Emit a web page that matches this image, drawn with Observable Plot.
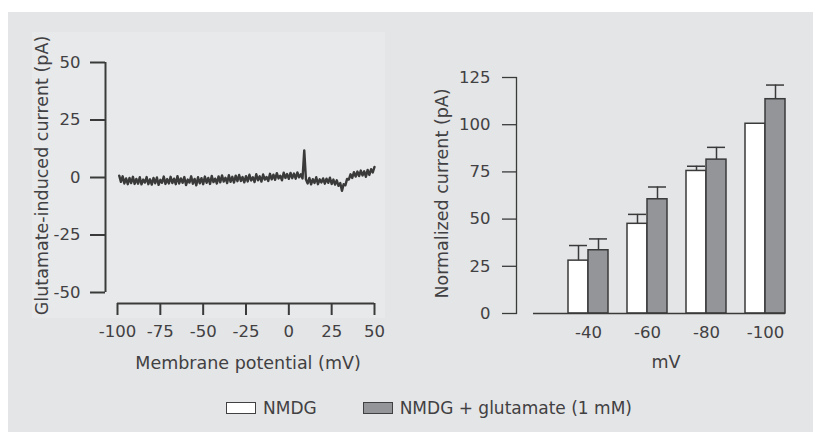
<!DOCTYPE html>
<html><head><meta charset="utf-8">
<script src="https://cdn.jsdelivr.net/npm/d3@7"></script>
<script src="https://cdn.jsdelivr.net/npm/@observablehq/plot@0.6"></script>
<style>
html,body{margin:0;padding:0;background:#fff;width:813px;height:432px;overflow:hidden;font-family:"DejaVu Sans",sans-serif;color:#414042;}
#bg{position:absolute;left:8px;top:12px;width:805px;height:420px;background:#e4e5e6;}
#panel{position:absolute;left:32px;top:32px;width:353px;height:286px;background:#e8e9ea;}
#left{position:absolute;left:0;top:0;}
#right{position:absolute;left:400px;top:0;}
#legend{position:absolute;left:226px;top:396px;height:24px;display:flex;align-items:center;font-size:17px;color:#414042;}
.item{display:flex;align-items:center;margin-right:46px;}
.sw{width:28px;height:10px;border:1.2px solid #414042;margin-right:7px;}
</style>
</head><body>
<div id="bg"></div><div id="panel"></div>
<div id="left"></div><div id="right"></div>
<div id="legend"></div>
<script>
// ---- Left panel: I–V trace (ramp from -99 to +50 mV, one sample per mV) ----
const traceStartMv = -99, traceEndMv = 50;
const traceCurrent = [
 0.8,-1.9,0.5,-2.6,-0.4,-2.9,-0.2,-2.4,0.3,-2.8,
 -0.6,-2.7,0.1,-3.0,-0.9,-2.2,0.2,-2.9,-0.8,-3.1,
 -0.2,-2.5,0.0,-3.2,-1.0,-2.3,0.4,-2.8,-0.7,-2.6,
 0.3,-2.4,-0.5,-2.9,0.6,-2.6,-0.4,-2.3,0.2,-3.3,
 -0.9,-2.2,0.5,-2.7,-0.6,-3.4,0.1,-2.5,-0.3,-2.9,
 0.4,-2.3,-0.2,-2.8,0.7,-2.0,-0.5,-2.6,0.5,-2.1,
 0.9,-1.8,-0.1,-2.4,1.0,-1.9,0.3,-2.2,0.8,-1.6,
 1.1,-1.5,0.2,-2.1,0.6,-1.7,1.2,-1.3,0.1,-2.0,
 1.4,-1.2,0.5,-1.8,1.3,-0.9,0.2,-1.5,1.6,-0.8,
 1.2,-1.0,1.9,-0.4,0.8,-1.2,2.1,-0.2,1.5,-0.6,
 2.0,-0.3,1.7,-0.5,2.2,0.1,1.4,-0.4,11.8,-0.9,
 -2.6,-0.2,-3.0,-0.7,-2.4,0.1,-2.9,-0.8,-2.2,-0.4,
 -2.7,-0.5,-2.3,-0.1,-2.8,-0.9,-3.1,-1.2,-3.6,-2.4,
 -5.8,-2.9,-3.4,-0.6,-0.9,1.4,-0.2,2.3,0.4,2.6,
 0.6,3.0,0.9,2.7,0.3,3.3,1.1,3.6,2.2,4.6
];
const traceMv = d3.range(traceStartMv, traceEndMv + 1);
const leftXTicks = [-100, -75, -50, -25, 0, 25, 50];
const leftYTicks = [-50, -25, 0, 25, 50];
const leftXLabel = "Membrane potential (mV)";
const leftYLabel = "Glutamate-induced current (pA)";

// ---- Right panel: grouped bars ----
const categories = ["-40", "-60", "-80", "-100"];
const nmdgMean = [28, 47.5, 75.5, 100.5];
const nmdgErr = [8, 5, 2.5, 0];
const glutMean = [33.5, 60.5, 81.5, 113.5];
const glutErr = [6, 6.5, 6.5, 7.5];
const rightYTicks = [0, 25, 50, 75, 100, 125];
const rightXLabel = "mV";
const rightYLabel = "Normalized current (pA)";
const seriesNames = ["NMDG", "NMDG + glutamate (1 mM)"];
const seriesColors = ["#ffffff", "#939598"];

const trace = traceMv.map((v, i) => ({v, i: traceCurrent[i]}));
const ink = "#3a3a3b";
const txt = "#414042";
const tickFont = 16.5, labelFont = 17.5;

const left = Plot.plot({
  width: 400, height: 380,
  marginLeft: 117, marginRight: 26, marginTop: 62, marginBottom: 88,
  style: {fontFamily: "DejaVu Sans", fontSize: tickFont + "px", color: txt, background: "transparent", overflow: "visible"},
  x: {domain: [leftXTicks[0], leftXTicks[leftXTicks.length - 1]]},
  y: {domain: [leftYTicks[0], leftYTicks[leftYTicks.length - 1]]},
  marks: [
    Plot.line(trace, {x: "v", y: "i", stroke: "#3a3a3a", strokeWidth: 2.4, strokeLinejoin: "round"}),
    Plot.ruleX([leftXTicks[0]], {x: d => d, y1: leftYTicks[0], y2: leftYTicks[leftYTicks.length - 1], dx: -12, stroke: ink, strokeWidth: 2}),
    Plot.ruleY([leftYTicks[0]], {y: d => d, x1: leftXTicks[0], x2: leftXTicks[leftXTicks.length - 1], dy: 11, stroke: ink, strokeWidth: 2}),
    Plot.axisY({ticks: leftYTicks, tickSize: 15, tickPadding: 10, dx: -12, label: null, tickFormat: d => String(d), stroke: ink, strokeWidth: 2, fontSize: tickFont, fill: txt}),
    Plot.axisX({ticks: leftXTicks, tickSize: 12, tickPadding: 10, dy: 11, label: null, tickFormat: d => String(d), stroke: ink, strokeWidth: 2, fontSize: tickFont, fill: txt}),
    Plot.text([leftYLabel], {text: d => d, frameAnchor: "left", textAnchor: "middle", rotate: -90, dx: -75, dy: -2, fontSize: labelFont, fill: txt}),
    Plot.text([leftXLabel], {text: d => d, frameAnchor: "bottom", textAnchor: "middle", dy: 76, dx: 2, fontSize: labelFont, fill: txt})
  ]
});
document.getElementById("left").appendChild(left);

const rows = categories.map((c, k) => ({mv: c, nm: nmdgMean[k], nmE: nmdgErr[k], gl: glutMean[k], glE: glutErr[k]}));
const half = 20;
const right = Plot.plot({
  width: 413, height: 380,
  marginLeft: 116, marginRight: 28, marginTop: 77, marginBottom: 67,
  style: {fontFamily: "DejaVu Sans", fontSize: tickFont + "px", color: txt, background: "transparent", overflow: "visible"},
  x: {type: "band", domain: categories, paddingInner: 0.326, paddingOuter: 0.431, align: 1},
  y: {domain: [rightYTicks[0], rightYTicks[rightYTicks.length - 1]]},
  marks: [
    Plot.ruleX(rows.filter(d => d.nmE > 0), {x: "mv", y1: "nm", y2: d => d.nm + d.nmE, dx: -half / 2, stroke: ink, strokeWidth: 1.5}),
    Plot.tickY(rows.filter(d => d.nmE > 0), {x: "mv", y: d => d.nm + d.nmE, insetRight: half + 1, insetLeft: 1, stroke: ink, strokeWidth: 1.5}),
    Plot.ruleX(rows, {x: "mv", y1: "gl", y2: d => d.gl + d.glE, dx: half / 2, stroke: ink, strokeWidth: 1.5}),
    Plot.tickY(rows, {x: "mv", y: d => d.gl + d.glE, insetLeft: half + 1, insetRight: 1, stroke: ink, strokeWidth: 1.5}),
    Plot.barY(rows, {x: "mv", y: "nm", insetRight: half, fill: seriesColors[0], stroke: ink, strokeWidth: 1.5}),
    Plot.barY(rows, {x: "mv", y: "gl", insetLeft: half, fill: seriesColors[1], stroke: ink, strokeWidth: 1.5}),
    Plot.ruleY([rightYTicks[0]], {y: d => d, insetLeft: 17, stroke: ink, strokeWidth: 1.5}),
    Plot.frame({anchor: "left", stroke: ink, strokeWidth: 1.3}),
    Plot.axisY({ticks: rightYTicks, tickSize: 14, tickPadding: 12, label: null, tickFormat: d => String(d), stroke: ink, strokeWidth: 1.3, fontSize: tickFont, fill: txt}),
    Plot.axisX({tickSize: 0, tickPadding: 13, label: null, fontSize: tickFont, fill: txt}),
    Plot.text([rightYLabel], {text: d => d, frameAnchor: "left", textAnchor: "middle", rotate: -90, dx: -74, dy: -2, fontSize: labelFont, fill: txt}),
    Plot.text([rightXLabel], {text: d => d, frameAnchor: "bottom", textAnchor: "middle", dy: 54, dx: 15, fontSize: labelFont, fill: txt})
  ]
});
document.getElementById("right").appendChild(right);

const legend = document.getElementById("legend");
seriesNames.forEach((name, k) => {
  const item = document.createElement("div");
  item.className = "item";
  const sw = document.createElement("div");
  sw.className = "sw";
  sw.style.background = seriesColors[k];
  const t = document.createElement("span");
  t.textContent = name;
  item.appendChild(sw); item.appendChild(t);
  legend.appendChild(item);
});
</script>
</body></html>
